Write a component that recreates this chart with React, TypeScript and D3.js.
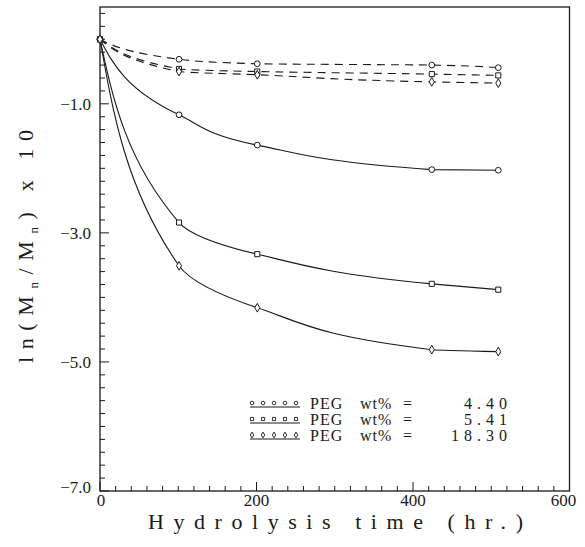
import React from 'react';
import * as d3 from 'd3';

const W = 585;
const H = 547;

// hydrolysis time (hr.)
const hours = [0, 101, 201, 424, 509];

// ln(Mn/Mn0) x 10, solid curves
const solid440 = [0, -1.17, -1.64, -2.02, -2.03];
const solid541 = [0, -2.84, -3.33, -3.79, -3.88];
const solid1830 = [0, -3.51, -4.16, -4.81, -4.84];

// dashed curves
const dashed440 = [0, -0.31, -0.38, -0.40, -0.44];
const dashed541 = [0, -0.46, -0.50, -0.54, -0.56];
const dashed1830 = [0, -0.50, -0.55, -0.66, -0.68];

const legendValues = ['4.40', '5.41', '18.30'];
const yTickLabels = [-1, -3, -5, -7];
const xTickLabels = [0, 200, 400, 600];

const FONT = '"Liberation Serif", "DejaVu Serif", serif';
const INK = '#1a1a1a';

const x = d3.scaleLinear().domain([0, 600]).range([100, 569.5]);
const y = d3.scaleLinear().domain([-7, 0.5]).range([491, 7]);

const shapes = [d3.symbolCircle, d3.symbolSquare, d3.symbolDiamond];

const series = [
  { values: solid440, shape: 0, dashed: false },
  { values: solid541, shape: 1, dashed: false },
  { values: solid1830, shape: 2, dashed: false },
  { values: dashed440, shape: 0, dashed: true },
  { values: dashed541, shape: 1, dashed: true },
  { values: dashed1830, shape: 2, dashed: true }
];

const line = d3.line<number>()
  .x((d, i) => x(hours[i]))
  .y((d) => y(d))
  .curve(d3.curveMonotoneY);

/**
 * Marker path for a shape index
 */
function marker(shape: number, size: number) {
  return d3.symbol().type(shapes[shape]).size(size)() || '';
}

export default function App() {
  let xMinor = d3.range(0, 601, 20);
  let yMinor = d3.range(-7, 0.45, 0.2);

  return <svg width={W} height={H} style={{ position: 'absolute', left: 0, top: 0, background: '#fff' }}>
    {/* frame */}
    <rect x={x(0)} y={y(0.5)} width={x(600) - x(0)} height={y(-7) - y(0.5)} fill='none' stroke={INK} strokeWidth={1.3} />

    {/* x ticks */}
    {xMinor.map((t) => {
      let major = t % 200 === 0;
      return <line key={'xt' + t} x1={x(t)} x2={x(t)} y1={y(-7)} y2={y(-7) - (major ? 9 : 5)} stroke={INK} strokeWidth={1} />;
    })}
    {/* y ticks */}
    {yMinor.map((t, i) => {
      let major = Math.abs(t - Math.round(t)) < 0.01 && Math.round(t) % 2 !== 0;
      return <line key={'yt' + i} x1={x(0)} x2={x(0) + (major ? 9 : 5)} y1={y(t)} y2={y(t)} stroke={INK} strokeWidth={1} />;
    })}

    {/* tick labels */}
    {yTickLabels.map((t) =>
      <text key={'yl' + t} x={91} y={y(t) + (t === -7 ? 2 : 6)} textAnchor='end' fontFamily={FONT} fontSize={17} fill={INK}>
        {'\u2212' + Math.abs(t).toFixed(1)}
      </text>
    )}
    {xTickLabels.map((t) =>
      <text key={'xl' + t} x={x(t) + (t === 0 ? 1 : t === 600 ? -6 : 0)} y={506} textAnchor='middle' fontFamily={FONT} fontSize={17} fill={INK}>
        {t}
      </text>
    )}

    {/* curves */}
    {series.map((s, i) =>
      <path key={'l' + i} d={line(s.values) || ''} fill='none' stroke={INK} strokeWidth={1.1} strokeDasharray={s.dashed ? '8,6' : undefined} />
    )}
    {series.map((s, i) =>
      <g key={'m' + i}>
        {s.values.map((v, j) =>
          <path key={j} d={marker(s.shape, s.shape === 2 ? 22 : 26)} transform={`translate(${x(hours[j])},${y(v)})`} fill='#fff' stroke={INK} strokeWidth={1} />
        )}
      </g>
    )}

    {/* legend */}
    {legendValues.map((v, i) => {
      let cy = 403 + i * 16;
      return <g key={'lg' + i}>
        {d3.range(5).map((k) =>
          <path key={k} d={marker(i, 10)} transform={`translate(${252 + k * 11},${cy})`} fill='none' stroke={INK} strokeWidth={0.9} />
        )}
        <line x1={250} x2={300} y1={cy + 4} y2={cy + 4} stroke={INK} strokeWidth={1} />
        <text y={cy + 6} fontFamily={FONT} fontSize={16} fill={INK}>
          <tspan x={310} letterSpacing={1}>PEG</tspan>
          <tspan x={360} letterSpacing={1}>wt%</tspan>
          <tspan x={403}>=</tspan>
          <tspan x={512} textAnchor='end' letterSpacing={5}>{v}</tspan>
        </text>
      </g>;
    })}

    {/* axis titles */}
    <text x={148} y={529} fontFamily={FONT} fontSize={22} fill={INK} textLength={375} lengthAdjust='spacing'>Hydrolysis time (hr.)</text>
    <text transform='translate(33,363) rotate(-90)' fontFamily={FONT} fontSize={22} fill={INK} textLength={233} lengthAdjust='spacing'>
      ln(M<tspan fontSize={13} dy={5}>n</tspan><tspan dy={-5}>/M</tspan><tspan fontSize={13} dy={5}>n</tspan><tspan dy={-5}>)  x  10</tspan>
    </text>
  </svg>;
}
